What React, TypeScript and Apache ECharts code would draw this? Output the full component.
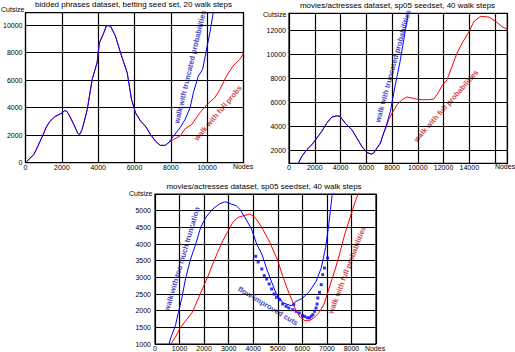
import React, { useEffect, useRef } from "react";
import * as echarts from "echarts";

// ---------- Data ----------
// Chart 1: bidded phrases dataset
const c1Common: number[][] = [
  [0, 0], [460, 600], [640, 1090], [960, 2000], [1150, 2600], [1330, 2980], [1610, 3340], [1980, 3600],
  [2160, 3780], [2250, 3760], [2385, 3510], [2660, 2780], [2880, 2130], [2990, 2060], [3120, 2420],
  [3400, 3870], [3670, 6050], [3945, 7300], [4000, 8000], [4070, 8710], [4310, 9440], [4460, 9970],
  [4680, 9920], [4950, 9200], [5230, 7990], [5600, 6530], [5835, 4600], [6055, 3630], [6330, 3030],
  [6600, 2660], [6875, 2060], [7150, 1570], [7420, 1260], [7690, 1260], [7875, 1450],
];
const c1Red: number[][] = [
  [8150, 1690], [8510, 1940], [8785, 2470], [9150, 2780], [9600, 3630], [10000, 4240], [10420, 4720],
  [10700, 5320], [11060, 6290], [11420, 7020], [11790, 7500], [12000, 7950],
];
const c1Blue: number[][] = [
  [8150, 1940], [8510, 2540], [8785, 3150], [9060, 3990], [9240, 5080], [9510, 6290], [9750, 6780],
  [10000, 8470], [10150, 9440], [10300, 10650], [10370, 11100],
];

// Chart 2: movies/actresses dataset (top right)
const c2Common: number[][] = [
  [727, 900], [987, 1470], [1376, 2030], [1766, 2440], [2155, 3000], [2545, 3560], [2935, 4250],
  [3324, 4750], [3714, 4860], [3974, 4800], [4363, 4250], [4883, 3700], [5272, 3000], [5661, 2300],
  [6051, 1800], [6389, 1670], [6570, 1750], [6830, 2170], [7090, 2580], [7350, 3420],
];
const c2Blue: number[][] = [
  [7610, 4250], [7870, 5220], [8130, 6750], [8390, 8140], [8650, 9530], [8910, 11200], [9040, 12040],
  [9250, 13400],
];
const c2Red: number[][] = [
  [7480, 3700], [7740, 4530], [8000, 5090], [8390, 5780], [8780, 6200], [9140, 6420], [9530, 6340],
  [9920, 6250], [10310, 6200], [10835, 6200], [11230, 6250], [11490, 6610], [11880, 7360],
  [12270, 7860], [12660, 8980], [13050, 10090], [13445, 10920], [13915, 11750], [14360, 12720],
  [14880, 13150], [15530, 13090], [16050, 12720], [16580, 12250], [16950, 12080],
];

// Chart 3: movies/actresses dataset (bottom)
const c3Red: number[][] = [
  [650, 1000], [830, 1200], [1035, 1500], [1310, 1750], [1520, 1950], [1725, 2300], [1930, 2650],
  [2140, 3000], [2350, 3400], [2550, 3750], [2760, 4100], [2970, 4380], [3170, 4650], [3380, 4800],
  [3660, 4860], [3860, 4900], [4070, 4800], [4350, 4500], [4675, 4050], [5000, 3500], [5195, 3050],
  [5390, 2650], [5585, 2300], [5715, 2050], [5910, 1800], [6105, 1700], [6300, 1700], [6495, 1800],
  [6690, 1950], [6885, 2200], [7015, 2500], [7145, 2800], [7340, 3250], [7535, 3750], [7730, 4300],
  [7925, 4750], [8120, 5200], [8315, 5600],
];
const c3Blue: number[][] = [
  [550, 950], [650, 1200], [830, 1550], [970, 2000], [1100, 2400], [1240, 2950], [1450, 3550],
  [1660, 4000], [1860, 4500], [2070, 4800], [2350, 5050], [2620, 5200], [2860, 5270], [3100, 5200],
  [3310, 5150], [3450, 5050], [3660, 4800], [3930, 4450], [4140, 4000], [4350, 3700], [4550, 3250],
  [4730, 2900], [4950, 2480], [5220, 2230], [5550, 2150], [5750, 2280], [6020, 2380], [6290, 2580],
  [6560, 2880], [6770, 3280], [6950, 3900], [7080, 4600], [7210, 5450], [7260, 5550],
];
const c3Flow: number[][] = [
  [4100, 3630], [4200, 3460], [4350, 3250], [4450, 3050], [4550, 2950], [4650, 2800], [4750, 2650],
  [4850, 2500], [4950, 2400], [5070, 2330], [5200, 2200], [5340, 2130], [5450, 2080], [5610, 2030],
  [5650, 2180], [5750, 1980], [5880, 1930], [6000, 1850], [6090, 1830], [6200, 1790], [6290, 1780],
  [6360, 1830], [6430, 1880], [6500, 1980], [6560, 2080], [6600, 2200], [6630, 2380], [6700, 2550],
  [6770, 2780], [6830, 3080], [6900, 3280], [7030, 3580],
];

const titles = [
  "bidded phrases dataset, betting seed set, 20 walk steps",
  "movies/actresses dataset, sp05 seedset, 40 walk steps",
  "movies/actresses dataset, sp05 seedset, 40 walk steps",
];

const FONT = '"Liberation Sans", Arial, Helvetica, sans-serif';
const RED = "#ff0000";
const BLUE = "#0000ff";
const TXT_BLUE = "#4848c8";
const TXT_RED = "#d04848";

function xAxis(grid: number, max: number, interval: number, hideAbove: number) {
  return {
    type: "value",
    gridIndex: grid,
    min: 0,
    max,
    interval,
    axisLine: { show: false },
    axisTick: { show: false },
    axisLabel: {
      margin: 1,
      color: "#000",
      fontFamily: FONT,
      fontSize: 7,
      formatter: (v: number) => (v > hideAbove ? "" : String(v)),
    },
    splitLine: { show: true, lineStyle: { color: "#000", width: 1.2 } },
  };
}

function yAxis(grid: number, min: number, max: number, opts: any, showBelow: number, showAbove: number, margin: number) {
  return {
    type: "value",
    gridIndex: grid,
    min,
    max,
    ...opts,
    axisLine: { show: false },
    axisTick: { show: false },
    axisLabel: {
      margin,
      color: "#000",
      fontFamily: FONT,
      fontSize: 7,
      formatter: (v: number) => (v > showBelow || v < showAbove ? "" : String(v)),
    },
    splitLine: { show: true, lineStyle: { color: "#000", width: 1.2 } },
  };
}

function line(data: number[][], color: string, idx: number) {
  return {
    type: "line",
    data,
    xAxisIndex: idx,
    yAxisIndex: idx,
    showSymbol: false,
    symbol: "none",
    clip: true,
    lineStyle: { color, width: 1 },
    silent: true,
  };
}

function label(text: string, x: number, y: number, deg: number, fill: string, size = 7.5) {
  return {
    type: "text",
    x,
    y,
    rotation: (deg * Math.PI) / 180,
    style: {
      text,
      fill,
      font: `bold ${size}px ${FONT}`,
      align: "center",
      verticalAlign: "middle",
      textAlign: "center",
      textVerticalAlign: "middle",
    },
  };
}

function plain(text: string, x: number, y: number, align: string, size = 7) {
  return {
    type: "text",
    x,
    y,
    style: {
      text,
      fill: "#000",
      font: `${size}px ${FONT}`,
      align,
      verticalAlign: "middle",
      textAlign: align,
      textVerticalAlign: "middle",
    },
  };
}

export default function App() {
  const ref = useRef<HTMLDivElement>(null);
  useEffect(() => {
    if (!ref.current) return;
    const chart = echarts.init(ref.current, undefined, { renderer: "svg" });
    const gridBase = { show: true, borderColor: "#000", borderWidth: 1.2, backgroundColor: "#fff" };
    chart.setOption({
      animation: false,
      backgroundColor: "#fff",
      grid: [
        { ...gridBase, left: 25.5, top: 12.7, width: 218, height: 150 },
        { ...gridBase, left: 289, top: 13.3, width: 218.3, height: 150 },
        { ...gridBase, left: 155, top: 194, width: 221, height: 150.3 },
      ],
      xAxis: [
        xAxis(0, 12000, 2000, 10000),
        xAxis(1, 16950, 2000, 14000),
        xAxis(2, 9000, 1000, 8000),
      ],
      yAxis: [
        yAxis(0, 0, 10900, { interval: 2000 }, 10000, 0, 3),
        yAxis(1, 900, 13400, { minInterval: 2000, maxInterval: 2000 }, 12000, 2000, 3),
        yAxis(2, 1000, 5500, { interval: 500 }, 5000, 1000, 4),
      ],
      series: [
        line(c1Common.concat(c1Red), RED, 0),
        line(c1Common.concat(c1Blue), BLUE, 0),
        line(c2Common.concat(c2Red), RED, 1),
        line(c2Common.concat(c2Blue), BLUE, 1),
        line(c3Red, RED, 2),
        line(c3Blue, BLUE, 2),
        {
          type: "scatter",
          data: c3Flow,
          xAxisIndex: 2,
          yAxisIndex: 2,
          symbol: "rect",
          symbolSize: 3,
          itemStyle: { color: BLUE },
          silent: true,
        },
      ],
      graphic: [
        plain(titles[0], 133.5, 4.5, "center", 8),
        plain(titles[1], 397.5, 5, "center", 8),
        plain(titles[2], 264, 186, "center", 8),
        plain("Cutsize", 1, 9, "left"),
        plain("Cutsize", 263, 14, "left"),
        plain("Cutsize", 129, 193, "left"),
        plain("Nodes", 243, 166.5, "center"),
        plain("Nodes", 505, 166.5, "center"),
        plain("Nodes", 375, 348.5, "center"),
        label("walk with truncated probabilities", 190, 67, 76.5, TXT_BLUE),
        label("walk with full probs", 218, 113, 50, TXT_RED),
        label("walk with truncated probabilities", 393, 66, 74.6, TXT_BLUE),
        label("walk with full probabilities", 446, 106, 48.4, TXT_RED),
        label("walk with too much truncation", 182, 259, 73.5, TXT_BLUE),
        label("walk with full probabilities", 347, 270, 69, TXT_RED),
        label("flow-improved cuts", 268, 306, -31, TXT_BLUE),
      ],
    });
    return () => chart.dispose();
  }, []);
  return (
    <div
      ref={ref}
      style={{ position: "fixed", left: 0, top: 0, width: 515, height: 352, background: "#fff" }}
    />
  );
}
